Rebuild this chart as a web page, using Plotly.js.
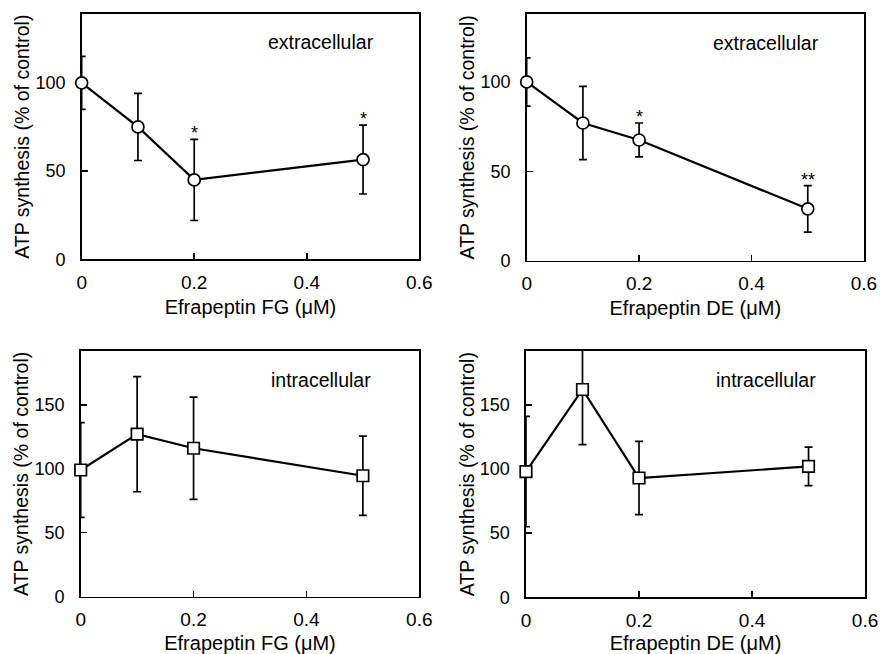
<!DOCTYPE html>
<html>
<head>
<meta charset="utf-8">
<script src="https://cdn.plot.ly/plotly-3.0.1.min.js"></script>
<style>html,body{margin:0;padding:0;background:#fff;}#chart{width:880px;height:654px;}</style>
</head>
<body>
<div id="chart"></div>
<script>
// ---- data ----
var dose = [0, 0.1, 0.2, 0.5];

var fgExtra    = [100, 75, 45, 56.5];
var fgExtraErr = [15, 19, 23, 19.5];
var deExtra    = [100, 77, 67.5, 29];
var deExtraErr = [13.5, 20.5, 9.5, 13];

var fgIntra    = [99, 127, 116, 94.5];
var fgIntraErr = [37, 45, 40, 31];
var deIntra    = [98, 162, 93, 102];
var deIntraErr = [43, 43, 28.5, 15];

var sigFGExtra = ['', '', '*', '*'];
var sigDEExtra = ['', '', '*', '**'];

var xTickVals = [0, 0.2, 0.4, 0.6];
var xTickText = ['0', '0.2', '0.4', '0.6'];
var yTickTop = [0, 50, 100];
var yTickBottom = [0, 50, 100, 150];

var yTitle = 'ATP synthesis (% of control)';
var xTitleFG = 'Efrapeptin FG (\u03BCM)';
var xTitleDE = 'Efrapeptin DE (\u03BCM)';

// ---- styling ----
var FONT = '"Liberation Sans", Arial, Helvetica, sans-serif';
var FS = 20;

var panels = [
  {y: fgExtra, e: fgExtraErr, sym: 'circle', sig: sigFGExtra, label: 'extracellular', xt: xTitleFG, yr: [0, 139], yt: yTickTop, xd: [0.0928, 0.4765], yd: [0.6035, 0.9786]},
  {y: deExtra, e: deExtraErr, sym: 'circle', sig: sigDEExtra, label: 'extracellular', xt: xTitleDE, yr: [0, 138], yt: yTickTop, xd: [0.5985, 0.9818], yd: [0.6015, 0.9786]},
  {y: fgIntra, e: fgIntraErr, sym: 'square', sig: null, label: 'intracellular', xt: xTitleFG, yr: [0, 192], yt: yTickBottom, xd: [0.0917, 0.4765], yd: [0.0876, 0.4633]},
  {y: deIntra, e: deIntraErr, sym: 'square', sig: null, label: 'intracellular', xt: xTitleDE, yr: [0, 192], yt: yTickBottom, xd: [0.5977, 0.9830], yd: [0.0867, 0.4633]}
];

var traces = [];
var layout = {
  width: 880, height: 654,
  margin: {l: 0, r: 0, t: 0, b: 0},
  paper_bgcolor: '#fff', plot_bgcolor: '#fff',
  showlegend: false,
  font: {family: FONT, size: FS, color: '#000'},
  annotations: []
};

panels.forEach(function (p, i) {
  var n = i + 1;
  var xa = 'x' + (n === 1 ? '' : n), ya = 'y' + (n === 1 ? '' : n);
  // error bars (clipped to the plot area)
  traces.push({
    x: dose, y: p.y, xaxis: xa, yaxis: ya, type: 'scatter', mode: 'markers',
    marker: {size: 1, color: 'rgba(0,0,0,0)'},
    error_y: {type: 'data', array: p.e, visible: true, color: '#000', thickness: 1.7, width: 4},
    cliponaxis: true, hoverinfo: 'skip'
  });
  // line + markers on top
  traces.push({
    x: dose, y: p.y, xaxis: xa, yaxis: ya, type: 'scatter', mode: 'lines+markers',
    line: {color: '#000', width: 2.2},
    marker: {symbol: p.sym, size: p.sym === 'circle' ? 12 : 11.5, color: '#fff', line: {color: '#000', width: 1.7}},
    cliponaxis: false
  });

  var axX = {
    domain: p.xd, range: [0, 0.6], tickvals: xTickVals, ticktext: xTickText,
    ticks: 'inside', ticklen: 6, tickwidth: 1.5, tickcolor: '#000',
    showline: true, linecolor: '#000', linewidth: 1.6, mirror: true,
    showgrid: false, zeroline: false, layer: 'below traces',
    anchor: ya, fixedrange: true,
    ticklabelstandoff: 5,
    tickfont: {family: FONT, size: 19, color: '#000'},
    title: {text: p.xt, font: {family: FONT, size: FS, color: '#000'}, standoff: 8}
  };
  var axY = {
    domain: p.yd, range: p.yr, tickvals: p.yt,
    ticks: 'inside', ticklen: 6, tickwidth: 1.5, tickcolor: '#000',
    showline: true, linecolor: '#000', linewidth: 1.6, mirror: true,
    showgrid: false, zeroline: false, layer: 'below traces',
    anchor: xa, fixedrange: true,
    ticklabelstandoff: 11,
    tickfont: {family: FONT, size: 18, color: '#000'},
    title: {text: yTitle, font: {family: FONT, size: 19.5, color: '#000'}, standoff: 0}
  };
  layout['xaxis' + (n === 1 ? '' : n)] = axX;
  layout['yaxis' + (n === 1 ? '' : n)] = axY;

  layout.annotations.push({
    xref: xa + ' domain', yref: ya + ' domain', x: 0.709, y: 0.884,
    text: p.label, showarrow: false, xanchor: 'center', yanchor: 'middle',
    font: {family: FONT, size: 19.5, color: '#000'}
  });
  if (p.sig) {
    p.sig.forEach(function (s, k) {
      if (!s) return;
      layout.annotations.push({
        xref: xa, yref: ya, x: dose[k], y: p.y[k] + p.e[k],
        text: s, showarrow: false, xanchor: 'center', yanchor: 'middle', yshift: 6,
        font: {family: FONT, size: 18, color: '#000'}
      });
    });
  }
});

Plotly.newPlot('chart', traces, layout, {staticPlot: true, displayModeBar: false});
</script>
</body>
</html>
